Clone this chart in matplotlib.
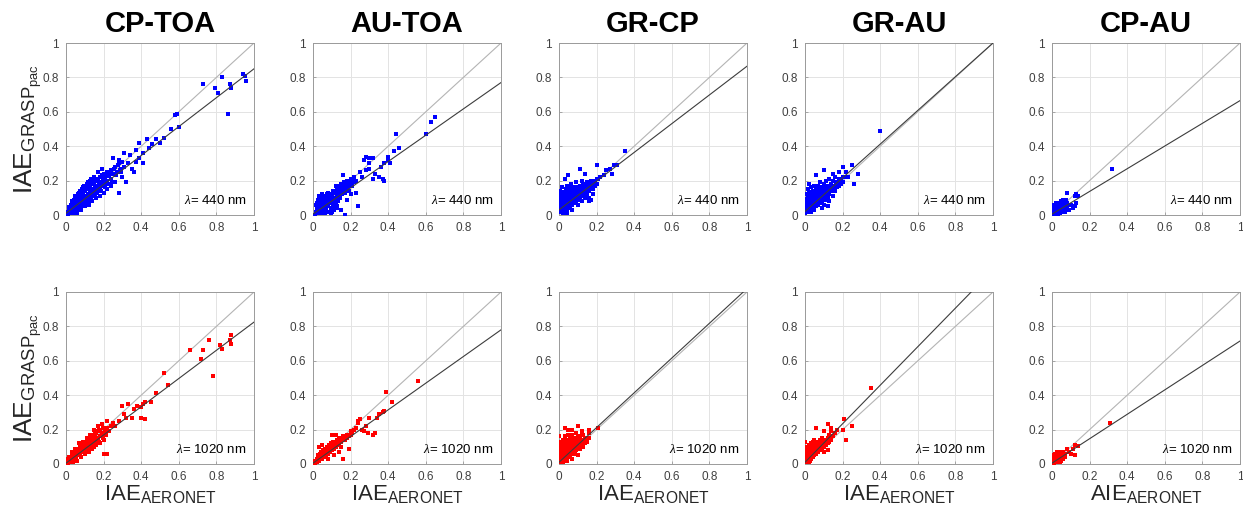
import numpy as np
import matplotlib
matplotlib.use("Agg")
import matplotlib.pyplot as plt

plt.rcParams['font.family'] = ['Liberation Sans', 'DejaVu Sans']
plt.rcParams['mathtext.fontset'] = 'custom'
plt.rcParams['mathtext.rm'] = 'Liberation Sans'
plt.rcParams['mathtext.it'] = 'Liberation Serif:italic'
plt.rcParams['mathtext.bf'] = 'Liberation Sans:bold'

# column titles and wavelengths
pairs = ["CP-TOA", "AU-TOA", "GR-CP", "GR-AU", "CP-AU"]
wavelengths = [440, 1020]
x_labels = ["IAE", "IAE", "IAE", "IAE", "AIE"]

# linear fits (slope, intercept) per panel, rows = wavelengths
fit_slope = [[0.84, 0.765, 0.835, 0.98, 0.66],
             [0.82, 0.775, 1.01, 1.12, 0.71]]
fit_icpt = [[0.01, 0.005, 0.03, 0.02, 0.005],
            [0.005, 0.005, 0.01, 0.01, 0.005]]

# ---- 440 nm ----
cp_toa_440 = [
    (0.005, 0.01), (0.01, 0.02), (0.01, 0.005), (0.015, 0.03), (0.02, 0.01), (0.02, 0.04),
    (0.025, 0.02), (0.03, 0.05), (0.03, 0.01), (0.035, 0.03), (0.04, 0.06), (0.04, 0.02),
    (0.045, 0.045), (0.05, 0.08), (0.05, 0.03), (0.055, 0.05), (0.06, 0.09), (0.06, 0.04),
    (0.065, 0.065), (0.07, 0.1), (0.07, 0.05), (0.075, 0.08), (0.08, 0.11), (0.08, 0.06),
    (0.085, 0.09), (0.09, 0.13), (0.09, 0.07), (0.095, 0.1), (0.1, 0.14), (0.1, 0.08),
    (0.105, 0.11), (0.11, 0.15), (0.11, 0.09), (0.115, 0.12), (0.12, 0.16), (0.12, 0.1),
    (0.125, 0.13), (0.13, 0.17), (0.13, 0.11), (0.135, 0.14), (0.14, 0.19), (0.14, 0.12),
    (0.145, 0.15), (0.15, 0.18), (0.15, 0.13), (0.155, 0.16), (0.16, 0.2), (0.16, 0.14),
    (0.165, 0.17), (0.17, 0.21), (0.17, 0.14), (0.175, 0.18), (0.18, 0.22), (0.18, 0.15),
    (0.185, 0.19), (0.19, 0.23), (0.19, 0.17), (0.2, 0.2), (0.2, 0.24), (0.21, 0.18),
    (0.21, 0.22), (0.22, 0.25), (0.22, 0.2), (0.23, 0.23), (0.24, 0.26), (0.24, 0.21),
    (0.25, 0.24), (0.26, 0.28), (0.27, 0.25), (0.28, 0.3), (0.29, 0.27), (0.3, 0.31),
    (0.03, 0.08), (0.05, 0.11), (0.07, 0.13), (0.09, 0.16), (0.11, 0.18), (0.13, 0.2),
    (0.15, 0.22), (0.17, 0.25), (0.19, 0.27), (0.06, 0.01), (0.08, 0.03), (0.1, 0.05),
    (0.12, 0.06), (0.14, 0.08), (0.16, 0.1), (0.18, 0.11), (0.2, 0.13), (0.22, 0.15),
    (0.24, 0.17), (0.28, 0.13), (0.32, 0.19), (0.25, 0.33), (0.28, 0.32), (0.31, 0.36),
    (0.34, 0.35), (0.37, 0.38), (0.39, 0.42), (0.41, 0.36), (0.43, 0.44), (0.44, 0.39),
    (0.46, 0.41), (0.48, 0.44), (0.5, 0.42), (0.52, 0.45), (0.31, 0.28), (0.33, 0.3),
    (0.35, 0.27), (0.37, 0.31), (0.39, 0.33), (0.3, 0.22), (0.36, 0.25), (0.41, 0.3),
    (0.26, 0.19), (0.56, 0.5), (0.58, 0.58), (0.59, 0.59), (0.6, 0.51), (0.73, 0.76),
    (0.79, 0.74), (0.81, 0.71), (0.83, 0.8), (0.87, 0.76), (0.88, 0.74), (0.86, 0.59),
    (0.94, 0.82), (0.95, 0.81), (0.96, 0.78),
    (0.015, 0.045), (0.025, 0.06), (0.035, 0.07), (0.045, 0.09), (0.055, 0.1), (0.065, 0.12),
    (0.075, 0.14), (0.085, 0.15), (0.095, 0.17), (0.105, 0.16), (0.115, 0.19), (0.125, 0.18),
    (0.135, 0.21), (0.145, 0.2), (0.035, 0.01), (0.045, 0.02), (0.055, 0.02), (0.065, 0.03),
    (0.075, 0.04), (0.085, 0.05), (0.095, 0.06), (0.105, 0.07), (0.115, 0.08), (0.125, 0.09),
    (0.135, 0.1), (0.145, 0.11), (0.155, 0.12), (0.165, 0.13), (0.175, 0.16), (0.185, 0.14),
    (0.195, 0.21), (0.205, 0.16), (0.215, 0.24), (0.225, 0.18), (0.235, 0.25), (0.245, 0.19),
    (0.255, 0.27), (0.265, 0.23), (0.275, 0.29), (0.285, 0.26), (0.295, 0.25),
    (0.02, 0.025), (0.04, 0.04), (0.06, 0.06), (0.08, 0.085), (0.1, 0.105), (0.12, 0.125),
    (0.14, 0.145), (0.16, 0.165), (0.18, 0.185), (0.2, 0.205), (0.22, 0.225), (0.24, 0.24),
]
au_toa_440 = [
    (0.01, 0.0), (0.015, 0.02), (0.02, 0.04), (0.02, 0.07), (0.02, 0.01), (0.025, 0.05),
    (0.03, 0.08), (0.03, 0.02), (0.035, 0.04), (0.04, 0.06), (0.04, 0.09), (0.04, 0.01),
    (0.045, 0.03), (0.05, 0.05), (0.05, 0.08), (0.055, 0.02), (0.06, 0.04), (0.06, 0.07),
    (0.065, 0.1), (0.07, 0.03), (0.07, 0.06), (0.075, 0.08), (0.08, 0.05), (0.08, 0.1),
    (0.085, 0.02), (0.09, 0.07), (0.09, 0.11), (0.095, 0.04), (0.1, 0.08), (0.1, 0.12),
    (0.105, 0.06), (0.11, 0.1), (0.11, 0.03), (0.115, 0.13), (0.12, 0.09), (0.12, 0.07),
    (0.125, 0.12), (0.13, 0.1), (0.13, 0.15), (0.135, 0.08), (0.14, 0.12), (0.14, 0.16),
    (0.145, 0.1), (0.15, 0.14), (0.15, 0.18), (0.155, 0.12), (0.16, 0.15), (0.165, 0.19),
    (0.17, 0.13), (0.17, 0.17), (0.18, 0.16), (0.18, 0.2), (0.19, 0.18), (0.19, 0.14),
    (0.2, 0.19), (0.2, 0.21), (0.21, 0.17), (0.21, 0.2), (0.22, 0.19), (0.22, 0.22),
    (0.23, 0.2), (0.16, 0.23), (0.12, 0.17), (0.08, 0.13), (0.05, 0.12), (0.03, 0.11),
    (0.1, 0.02), (0.13, 0.05), (0.15, 0.03), (0.17, 0.0), (0.18, 0.09), (0.2, 0.12),
    (0.23, 0.13), (0.24, 0.05), (0.25, 0.25), (0.26, 0.22), (0.27, 0.32), (0.28, 0.34),
    (0.28, 0.26), (0.3, 0.33), (0.3, 0.3), (0.3, 0.27), (0.32, 0.33), (0.32, 0.21),
    (0.33, 0.24), (0.35, 0.22), (0.36, 0.28), (0.37, 0.21), (0.38, 0.2), (0.38, 0.3),
    (0.4, 0.34), (0.4, 0.32), (0.41, 0.3), (0.43, 0.37), (0.44, 0.47), (0.46, 0.39),
    (0.6, 0.47), (0.63, 0.54), (0.65, 0.57),
    (0.025, 0.03), (0.035, 0.065), (0.045, 0.05), (0.055, 0.09), (0.065, 0.05), (0.075, 0.12),
    (0.085, 0.07), (0.095, 0.09), (0.105, 0.1), (0.115, 0.08), (0.125, 0.1), (0.135, 0.13),
    (0.145, 0.13), (0.155, 0.16), (0.165, 0.14), (0.175, 0.15), (0.185, 0.18), (0.195, 0.17),
    (0.065, 0.01), (0.075, 0.02), (0.095, 0.01), (0.115, 0.05), (0.125, 0.04),
    (0.015, 0.06), (0.025, 0.09), (0.035, 0.1), (0.045, 0.075), (0.055, 0.11), (0.105, 0.14),
    (0.125, 0.15), (0.145, 0.17), (0.175, 0.19), (0.195, 0.2), (0.215, 0.21), (0.225, 0.2),
]
gr_cp_440 = [
    (0.0, 0.02), (0.0, 0.05), (0.0, 0.08), (0.0, 0.11), (0.005, 0.14), (0.01, 0.03),
    (0.01, 0.06), (0.01, 0.09), (0.01, 0.12), (0.015, 0.16), (0.02, 0.01), (0.02, 0.04),
    (0.02, 0.07), (0.02, 0.1), (0.025, 0.13), (0.03, 0.02), (0.03, 0.05), (0.03, 0.08),
    (0.03, 0.11), (0.035, 0.15), (0.04, 0.03), (0.04, 0.06), (0.04, 0.09), (0.04, 0.12),
    (0.045, 0.17), (0.05, 0.04), (0.05, 0.07), (0.05, 0.1), (0.05, 0.13), (0.055, 0.15),
    (0.06, 0.05), (0.06, 0.08), (0.06, 0.11), (0.06, 0.14), (0.065, 0.18), (0.07, 0.06),
    (0.07, 0.09), (0.07, 0.12), (0.07, 0.15), (0.08, 0.07), (0.08, 0.1), (0.08, 0.13),
    (0.08, 0.16), (0.09, 0.08), (0.09, 0.11), (0.09, 0.14), (0.09, 0.19), (0.1, 0.06),
    (0.1, 0.09), (0.1, 0.12), (0.1, 0.15), (0.11, 0.1), (0.11, 0.13), (0.11, 0.17),
    (0.12, 0.08), (0.12, 0.11), (0.12, 0.14), (0.12, 0.2), (0.13, 0.12), (0.13, 0.16),
    (0.13, 0.18), (0.14, 0.1), (0.14, 0.13), (0.14, 0.17), (0.15, 0.12), (0.15, 0.15),
    (0.15, 0.19), (0.16, 0.14), (0.16, 0.18), (0.16, 0.1), (0.17, 0.16), (0.17, 0.2),
    (0.18, 0.15), (0.18, 0.18), (0.18, 0.12), (0.19, 0.17), (0.19, 0.2), (0.2, 0.18),
    (0.2, 0.21), (0.35, 0.37), (0.31, 0.29), (0.29, 0.29), (0.27, 0.27), (0.25, 0.26),
    (0.24, 0.23), (0.28, 0.24), (0.2, 0.29), (0.11, 0.27), (0.14, 0.24), (0.05, 0.23),
    (0.03, 0.21), (0.21, 0.21), (0.22, 0.22), (0.17, 0.09), (0.16, 0.08), (0.07, 0.03),
    (0.04, 0.01),
    (0.005, 0.035), (0.005, 0.065), (0.005, 0.095), (0.015, 0.045), (0.015, 0.075),
    (0.015, 0.105), (0.015, 0.135), (0.025, 0.055), (0.025, 0.085), (0.025, 0.115),
    (0.035, 0.035), (0.035, 0.065), (0.035, 0.095), (0.035, 0.125), (0.045, 0.045),
    (0.045, 0.075), (0.045, 0.105), (0.045, 0.135), (0.055, 0.055), (0.055, 0.085),
    (0.055, 0.12), (0.065, 0.065), (0.065, 0.095), (0.065, 0.125), (0.065, 0.155),
    (0.075, 0.075), (0.075, 0.105), (0.075, 0.135), (0.085, 0.085), (0.085, 0.115),
    (0.085, 0.145), (0.095, 0.095), (0.095, 0.125), (0.095, 0.16), (0.105, 0.105),
    (0.105, 0.135), (0.115, 0.115), (0.115, 0.145), (0.125, 0.125), (0.125, 0.155),
    (0.135, 0.14), (0.145, 0.155), (0.155, 0.165), (0.165, 0.175), (0.175, 0.185),
]
gr_au_440 = [
    (0.0, 0.01), (0.0, 0.04), (0.0, 0.08), (0.005, 0.12), (0.01, 0.02), (0.01, 0.05),
    (0.01, 0.09), (0.015, 0.15), (0.02, 0.03), (0.02, 0.06), (0.02, 0.1), (0.02, 0.13),
    (0.03, 0.02), (0.03, 0.05), (0.03, 0.08), (0.03, 0.12), (0.03, 0.16), (0.04, 0.04),
    (0.04, 0.07), (0.04, 0.1), (0.04, 0.14), (0.05, 0.03), (0.05, 0.06), (0.05, 0.09),
    (0.05, 0.12), (0.05, 0.17), (0.06, 0.05), (0.06, 0.08), (0.06, 0.11), (0.06, 0.15),
    (0.07, 0.06), (0.07, 0.09), (0.07, 0.13), (0.07, 0.17), (0.08, 0.07), (0.08, 0.1),
    (0.08, 0.14), (0.08, 0.19), (0.09, 0.08), (0.09, 0.12), (0.09, 0.16), (0.1, 0.06),
    (0.1, 0.1), (0.1, 0.13), (0.1, 0.18), (0.11, 0.09), (0.11, 0.12), (0.11, 0.15),
    (0.11, 0.2), (0.12, 0.1), (0.12, 0.14), (0.12, 0.17), (0.13, 0.08), (0.13, 0.12),
    (0.13, 0.16), (0.13, 0.21), (0.14, 0.14), (0.14, 0.18), (0.15, 0.11), (0.15, 0.15),
    (0.15, 0.2), (0.16, 0.14), (0.16, 0.17), (0.16, 0.22), (0.17, 0.16), (0.17, 0.19),
    (0.18, 0.17), (0.18, 0.21), (0.19, 0.2), (0.19, 0.18), (0.2, 0.22), (0.2, 0.19),
    (0.4, 0.49), (0.26, 0.18), (0.28, 0.24), (0.25, 0.29), (0.2, 0.28), (0.22, 0.25),
    (0.18, 0.25), (0.15, 0.24), (0.06, 0.23), (0.1, 0.26), (0.02, 0.18), (0.12, 0.05),
    (0.09, 0.04), (0.21, 0.22), (0.23, 0.22),
    (0.005, 0.03), (0.005, 0.06), (0.005, 0.095), (0.015, 0.02), (0.015, 0.045),
    (0.015, 0.075), (0.015, 0.11), (0.025, 0.04), (0.025, 0.08), (0.025, 0.115),
    (0.035, 0.035), (0.035, 0.065), (0.035, 0.1), (0.035, 0.135), (0.045, 0.05),
    (0.045, 0.085), (0.045, 0.12), (0.055, 0.07), (0.055, 0.1), (0.055, 0.14),
    (0.065, 0.07), (0.065, 0.1), (0.065, 0.13), (0.075, 0.08), (0.075, 0.115),
    (0.075, 0.15), (0.085, 0.09), (0.085, 0.125), (0.095, 0.1), (0.095, 0.14),
    (0.105, 0.115), (0.105, 0.155), (0.115, 0.13), (0.125, 0.13), (0.135, 0.145),
    (0.145, 0.16), (0.155, 0.17), (0.165, 0.19),
]
cp_au_440 = [
    (0.0, 0.01), (0.0, 0.03), (0.005, 0.05), (0.01, 0.0), (0.01, 0.02), (0.01, 0.04),
    (0.01, 0.06), (0.015, 0.03), (0.02, 0.01), (0.02, 0.03), (0.02, 0.05), (0.02, 0.07),
    (0.025, 0.02), (0.03, 0.0), (0.03, 0.04), (0.03, 0.06), (0.035, 0.03), (0.04, 0.01),
    (0.04, 0.05), (0.04, 0.07), (0.045, 0.04), (0.05, 0.02), (0.05, 0.06), (0.05, 0.08),
    (0.055, 0.05), (0.06, 0.03), (0.06, 0.07), (0.065, 0.05), (0.07, 0.04), (0.07, 0.06),
    (0.075, 0.09), (0.08, 0.05), (0.08, 0.07), (0.09, 0.06), (0.09, 0.03), (0.32, 0.27),
    (0.13, 0.12), (0.14, 0.11), (0.12, 0.11), (0.13, 0.07), (0.12, 0.05), (0.08, 0.13),
    (0.06, 0.09), (0.1, 0.06), (0.07, 0.02), (0.11, 0.04),
]

# ---- 1020 nm ----
cp_toa_1020 = [
    (0.0, 0.01), (0.005, 0.02), (0.01, 0.0), (0.01, 0.03), (0.015, 0.015), (0.02, 0.04),
    (0.02, 0.01), (0.025, 0.03), (0.03, 0.05), (0.03, 0.02), (0.035, 0.04), (0.04, 0.06),
    (0.04, 0.03), (0.045, 0.05), (0.05, 0.07), (0.05, 0.04), (0.055, 0.06), (0.06, 0.08),
    (0.06, 0.05), (0.065, 0.07), (0.07, 0.09), (0.07, 0.06), (0.075, 0.08), (0.08, 0.1),
    (0.08, 0.07), (0.085, 0.09), (0.09, 0.11), (0.09, 0.08), (0.095, 0.1), (0.1, 0.12),
    (0.1, 0.08), (0.105, 0.11), (0.11, 0.13), (0.11, 0.09), (0.115, 0.12), (0.12, 0.14),
    (0.12, 0.1), (0.125, 0.13), (0.13, 0.15), (0.13, 0.11), (0.135, 0.14), (0.14, 0.16),
    (0.14, 0.12), (0.145, 0.15), (0.15, 0.17), (0.15, 0.13), (0.155, 0.16), (0.16, 0.18),
    (0.16, 0.14), (0.17, 0.19), (0.17, 0.15), (0.18, 0.2), (0.18, 0.16), (0.19, 0.18),
    (0.2, 0.21), (0.2, 0.17), (0.21, 0.19), (0.22, 0.21), (0.23, 0.19), (0.24, 0.22),
    (0.25, 0.24), (0.26, 0.22), (0.03, 0.07), (0.05, 0.09), (0.07, 0.12), (0.09, 0.13),
    (0.11, 0.15), (0.13, 0.17), (0.15, 0.2), (0.17, 0.22), (0.19, 0.23), (0.22, 0.25),
    (0.06, 0.02), (0.08, 0.04), (0.1, 0.06), (0.12, 0.07), (0.14, 0.09), (0.16, 0.11),
    (0.18, 0.12), (0.2, 0.14), (0.22, 0.06), (0.2, 0.06), (0.15, 0.1), (0.28, 0.25),
    (0.3, 0.34), (0.31, 0.29), (0.32, 0.27), (0.33, 0.35), (0.35, 0.27), (0.36, 0.32),
    (0.38, 0.34), (0.4, 0.33), (0.4, 0.27), (0.41, 0.35), (0.42, 0.36), (0.42, 0.26),
    (0.45, 0.36), (0.48, 0.41), (0.52, 0.53), (0.54, 0.46), (0.66, 0.66), (0.72, 0.61),
    (0.73, 0.66), (0.76, 0.72), (0.78, 0.51), (0.82, 0.69), (0.83, 0.67), (0.87, 0.72),
    (0.88, 0.75), (0.88, 0.7),
    (0.015, 0.04), (0.035, 0.065), (0.055, 0.085), (0.075, 0.105), (0.095, 0.125),
    (0.115, 0.145), (0.135, 0.165), (0.155, 0.185), (0.175, 0.2), (0.195, 0.21),
    (0.035, 0.01), (0.055, 0.03), (0.075, 0.05), (0.095, 0.07), (0.115, 0.08),
    (0.135, 0.1), (0.155, 0.12), (0.175, 0.13), (0.195, 0.15), (0.215, 0.17),
]
au_toa_1020 = [
    (0.0, 0.0), (0.01, 0.02), (0.01, 0.0), (0.02, 0.03), (0.02, 0.01), (0.025, 0.05),
    (0.03, 0.02), (0.03, 0.04), (0.035, 0.06), (0.04, 0.03), (0.04, 0.05), (0.045, 0.07),
    (0.05, 0.03), (0.05, 0.05), (0.055, 0.08), (0.06, 0.04), (0.06, 0.06), (0.065, 0.09),
    (0.07, 0.05), (0.07, 0.07), (0.075, 0.1), (0.08, 0.06), (0.08, 0.08), (0.085, 0.11),
    (0.09, 0.07), (0.09, 0.09), (0.095, 0.12), (0.1, 0.08), (0.1, 0.1), (0.105, 0.13),
    (0.11, 0.09), (0.11, 0.11), (0.12, 0.1), (0.12, 0.13), (0.13, 0.11), (0.13, 0.14),
    (0.14, 0.12), (0.14, 0.15), (0.15, 0.13), (0.15, 0.1), (0.16, 0.14), (0.16, 0.16),
    (0.17, 0.14), (0.18, 0.15), (0.18, 0.17), (0.19, 0.16), (0.2, 0.17), (0.12, 0.17),
    (0.1, 0.17), (0.05, 0.11), (0.03, 0.1), (0.08, 0.03), (0.11, 0.05), (0.16, 0.03),
    (0.19, 0.09), (0.14, 0.07), (0.2, 0.19), (0.21, 0.18), (0.22, 0.2), (0.23, 0.21),
    (0.24, 0.24), (0.25, 0.26), (0.24, 0.25), (0.26, 0.2), (0.27, 0.19), (0.28, 0.22),
    (0.29, 0.18), (0.3, 0.27), (0.32, 0.17), (0.33, 0.18), (0.34, 0.27), (0.35, 0.29),
    (0.37, 0.3), (0.38, 0.31), (0.39, 0.42), (0.42, 0.36), (0.56, 0.48),
    (0.015, 0.01), (0.025, 0.02), (0.035, 0.03), (0.045, 0.04), (0.055, 0.05),
    (0.065, 0.06), (0.075, 0.07), (0.085, 0.08), (0.095, 0.08), (0.105, 0.09),
    (0.115, 0.1), (0.125, 0.11), (0.135, 0.12), (0.145, 0.13), (0.155, 0.14),
]
gr_cp_1020 = [
    (0.0, 0.01), (0.0, 0.04), (0.0, 0.07), (0.0, 0.1), (0.005, 0.13), (0.01, 0.02),
    (0.01, 0.05), (0.01, 0.08), (0.01, 0.11), (0.02, 0.01), (0.02, 0.04), (0.02, 0.07),
    (0.02, 0.1), (0.02, 0.14), (0.03, 0.03), (0.03, 0.06), (0.03, 0.09), (0.03, 0.12),
    (0.03, 0.16), (0.04, 0.02), (0.04, 0.05), (0.04, 0.08), (0.04, 0.11), (0.04, 0.14),
    (0.05, 0.04), (0.05, 0.07), (0.05, 0.1), (0.05, 0.13), (0.05, 0.17), (0.06, 0.05),
    (0.06, 0.08), (0.06, 0.11), (0.06, 0.15), (0.07, 0.03), (0.07, 0.07), (0.07, 0.1),
    (0.07, 0.13), (0.07, 0.17), (0.08, 0.06), (0.08, 0.09), (0.08, 0.12), (0.08, 0.15),
    (0.09, 0.08), (0.09, 0.11), (0.09, 0.14), (0.09, 0.18), (0.1, 0.05), (0.1, 0.1),
    (0.1, 0.13), (0.1, 0.16), (0.11, 0.09), (0.11, 0.12), (0.11, 0.15), (0.12, 0.11),
    (0.12, 0.14), (0.12, 0.17), (0.13, 0.1), (0.13, 0.13), (0.14, 0.12), (0.14, 0.15),
    (0.15, 0.14), (0.16, 0.15), (0.21, 0.21), (0.1, 0.22), (0.03, 0.21), (0.05, 0.2),
    (0.07, 0.2), (0.0, 0.16), (0.13, 0.17), (0.15, 0.13), (0.16, 0.2), (0.16, 0.18),
    (0.12, 0.19),
    (0.005, 0.025), (0.005, 0.055), (0.005, 0.085), (0.015, 0.035), (0.015, 0.065),
    (0.015, 0.095), (0.015, 0.125), (0.025, 0.025), (0.025, 0.055), (0.025, 0.085),
    (0.025, 0.115), (0.035, 0.045), (0.035, 0.075), (0.035, 0.105), (0.045, 0.035),
    (0.045, 0.065), (0.045, 0.095), (0.045, 0.125), (0.055, 0.055), (0.055, 0.085),
    (0.055, 0.115), (0.065, 0.065), (0.065, 0.095), (0.065, 0.125), (0.075, 0.085),
    (0.075, 0.115), (0.085, 0.075), (0.085, 0.105), (0.085, 0.135), (0.095, 0.095),
    (0.095, 0.125), (0.105, 0.115), (0.105, 0.145), (0.115, 0.105), (0.125, 0.125),
]
gr_au_1020 = [
    (0.0, 0.01), (0.0, 0.03), (0.0, 0.06), (0.005, 0.09), (0.01, 0.02), (0.01, 0.04),
    (0.01, 0.07), (0.01, 0.1), (0.02, 0.01), (0.02, 0.03), (0.02, 0.05), (0.02, 0.08),
    (0.02, 0.11), (0.03, 0.03), (0.03, 0.06), (0.03, 0.09), (0.03, 0.12), (0.04, 0.04),
    (0.04, 0.07), (0.04, 0.1), (0.04, 0.13), (0.05, 0.05), (0.05, 0.08), (0.05, 0.11),
    (0.05, 0.14), (0.06, 0.06), (0.06, 0.09), (0.06, 0.12), (0.07, 0.07), (0.07, 0.1),
    (0.07, 0.13), (0.08, 0.08), (0.08, 0.11), (0.08, 0.14), (0.09, 0.09), (0.09, 0.12),
    (0.09, 0.15), (0.1, 0.1), (0.1, 0.13), (0.1, 0.07), (0.11, 0.11), (0.11, 0.14),
    (0.12, 0.12), (0.12, 0.15), (0.13, 0.13), (0.13, 0.17), (0.14, 0.14), (0.14, 0.19),
    (0.15, 0.16), (0.35, 0.44), (0.21, 0.26), (0.25, 0.22), (0.22, 0.14), (0.2, 0.2),
    (0.12, 0.23), (0.14, 0.21), (0.06, 0.21), (0.1, 0.19), (0.0, 0.13), (0.12, 0.08),
    (0.16, 0.18), (0.17, 0.2),
    (0.005, 0.02), (0.005, 0.045), (0.005, 0.075), (0.015, 0.03), (0.015, 0.055),
    (0.015, 0.085), (0.025, 0.02), (0.025, 0.045), (0.025, 0.07), (0.025, 0.1),
    (0.035, 0.04), (0.035, 0.075), (0.035, 0.105), (0.045, 0.055), (0.045, 0.09),
    (0.045, 0.12), (0.055, 0.065), (0.055, 0.1), (0.065, 0.075), (0.065, 0.11),
    (0.075, 0.085), (0.075, 0.12), (0.085, 0.095), (0.085, 0.13), (0.095, 0.105),
    (0.105, 0.115), (0.115, 0.125), (0.125, 0.135), (0.135, 0.15),
]
cp_au_1020 = [
    (0.0, 0.01), (0.0, 0.03), (0.005, 0.05), (0.01, 0.0), (0.01, 0.02), (0.01, 0.04),
    (0.015, 0.06), (0.02, 0.01), (0.02, 0.03), (0.02, 0.05), (0.025, 0.07), (0.03, 0.02),
    (0.03, 0.04), (0.03, 0.06), (0.035, 0.03), (0.04, 0.01), (0.04, 0.05), (0.04, 0.07),
    (0.045, 0.04), (0.05, 0.02), (0.05, 0.06), (0.055, 0.05), (0.06, 0.03), (0.06, 0.07),
    (0.065, 0.05), (0.07, 0.04), (0.31, 0.24), (0.12, 0.11), (0.14, 0.105), (0.11, 0.09),
    (0.12, 0.05), (0.09, 0.07), (0.08, 0.09), (0.1, 0.06), (0.07, 0.06),
]

panels = [[cp_toa_440, au_toa_440, gr_cp_440, gr_au_440, cp_au_440],
          [cp_toa_1020, au_toa_1020, gr_cp_1020, gr_au_1020, cp_au_1020]]
colors = ["#0000ff", "#ff0000"]

W, H = 1243, 516
fig = plt.figure(figsize=(W / 100, H / 100), dpi=100)

col_left = [66, 313, 559, 805, 1052]
ax_w = 188
row_top = [43, 292]
ax_h = 172
ticks = [0, 0.2, 0.4, 0.6, 0.8, 1]
tick_txt = ["0", "0.2", "0.4", "0.6", "0.8", "1"]
xx = np.array([0.0, 1.0])

for r in range(2):
    for c in range(5):
        left = col_left[c] / W
        bottom = 1 - (row_top[r] + ax_h) / H
        ax = fig.add_axes([left, bottom, ax_w / W, ax_h / H])
        pts = np.array(panels[r][c])
        # 1:1 reference and fitted line
        ax.plot(xx, xx, color="#b4b4b4", lw=0.8, zorder=2)
        ax.plot(xx, fit_slope[r][c] * xx + fit_icpt[r][c], color="#3c3c3c", lw=0.8, zorder=4)
        ax.scatter(pts[:, 0], pts[:, 1], s=6.5, marker="s", color=colors[r],
                   linewidths=0, zorder=3)
        ax.set_xlim(0, 1)
        ax.set_ylim(0, 1)
        ax.set_xticks(ticks)
        ax.set_yticks(ticks)
        ax.set_xticklabels(tick_txt)
        ax.set_yticklabels(tick_txt)
        ax.grid(True, color="#e3e3e3", lw=0.7, zorder=0)
        ax.set_axisbelow(True)
        ax.tick_params(direction="in", length=2.5, width=0.6, colors="#9a9a9a",
                       labelcolor="#404040", labelsize=8.5, pad=5)
        for sp in ax.spines.values():
            sp.set_color("#9a9a9a")
            sp.set_linewidth(0.7)
        ax.text(0.96, 0.085, r"$\lambda$= %d nm" % wavelengths[r], ha="right",
                va="center", fontsize=9.5, color="#000000")

        cx = (col_left[c] + ax_w / 2) / W
        if r == 0:
            fig.text(cx, 1 - 24 / H, pairs[c], ha="center", va="center",
                     fontsize=21, fontweight="bold")
        else:
            fig.text(cx, 1 - 494 / H, x_labels[c] + r"$_{\mathrm{AERONET}}$",
                     ha="center", va="center", fontsize=16, color="#262626")
    cy = 1 - (row_top[r] + ax_h / 2) / H
    fig.text(28 / W, cy, r"IAE$_{\mathrm{GRASP}_{\mathrm{pac}}}$", rotation=90,
             ha="center", va="center", fontsize=19, color="#262626")

fig.savefig("out.png", dpi=100)
